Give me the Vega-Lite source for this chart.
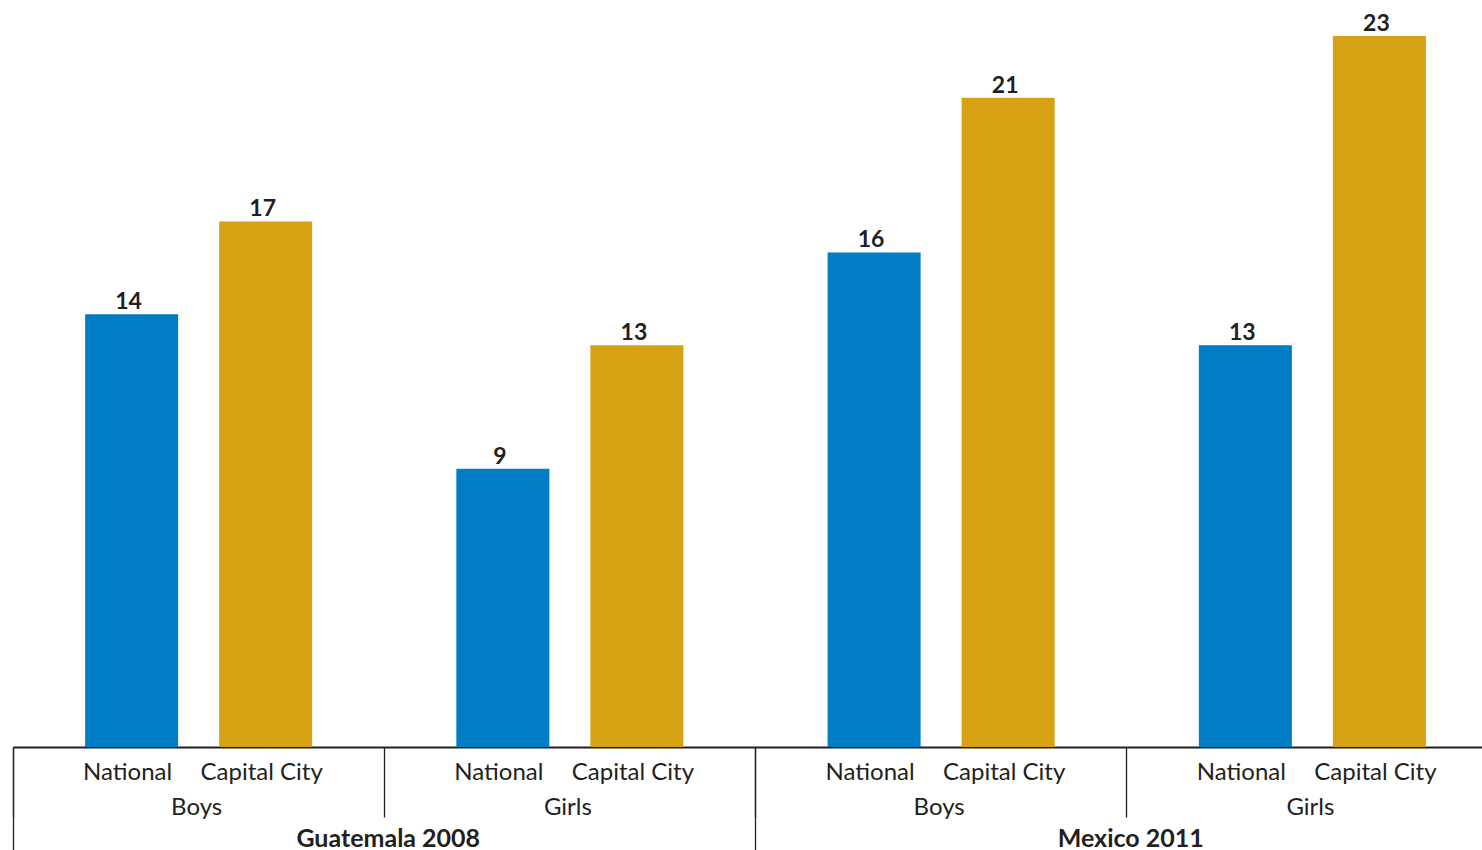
{
  "$schema": "https://vega.github.io/schema/vega-lite/v6.json",
  "width": 1469,
  "height": 711,
  "autosize": {"type": "none"},
  "padding": {"left": 13, "top": 36, "right": 0, "bottom": 103},
  "background": "white",
  "config": {"view": {"stroke": null}, "font": "Lato"},
  "data": {
    "values": [
      {"country": "Guatemala 2008", "group": "Guatemala 2008|Boys", "type": "National", "value": 14},
      {"country": "Guatemala 2008", "group": "Guatemala 2008|Boys", "type": "Capital City", "value": 17},
      {"country": "Guatemala 2008", "group": "Guatemala 2008|Girls", "type": "National", "value": 9},
      {"country": "Guatemala 2008", "group": "Guatemala 2008|Girls", "type": "Capital City", "value": 13},
      {"country": "Mexico 2011", "group": "Mexico 2011|Boys", "type": "National", "value": 16},
      {"country": "Mexico 2011", "group": "Mexico 2011|Boys", "type": "Capital City", "value": 21},
      {"country": "Mexico 2011", "group": "Mexico 2011|Girls", "type": "National", "value": 13},
      {"country": "Mexico 2011", "group": "Mexico 2011|Girls", "type": "Capital City", "value": 23}
    ]
  },
  "layer": [
    {
      "encoding": {
        "x": {
          "field": "group",
          "type": "nominal",
          "scale": {"type": "band", "paddingInner": 0, "paddingOuter": 0, "range": [0, 1485]},
          "axis": {
            "orient": "bottom",
            "title": null,
            "labelExpr": "split(datum.label, '|')[1]",
            "labelFontSize": 24,
            "labelColor": "#231F20",
            "labelBaseline": "alphabetic",
            "labelPadding": -3,
            "labelOffset": -2,
            "labelAngle": 0,
            "labelLimit": 0,
            "domain": true,
            "domainColor": "#231F20",
            "domainWidth": 2,
            "ticks": true,
            "tickSize": 70,
            "tickWidth": 1.3,
            "tickColor": "#231F20",
            "bandPosition": 0,
            "tickExtra": false,
            "grid": false
          }
        },
        "xOffset": {
          "field": "type",
          "type": "nominal",
          "sort": ["National", "Capital City"],
          "scale": {"paddingInner": 0.306, "paddingOuter": 0.538}
        }
      },
      "layer": [
        {
          "mark": {"type": "bar"},
          "encoding": {
            "y": {"field": "value", "type": "quantitative", "scale": {"domain": [0, 23], "nice": false, "zero": true}, "axis": null},
            "color": {
              "field": "type",
              "type": "nominal",
              "scale": {"domain": ["National", "Capital City"], "range": ["#007DC4", "#D6A112"]},
              "legend": null
            }
          }
        },
        {
          "mark": {"type": "text", "baseline": "alphabetic", "dy": -5, "dx": -3, "fontSize": 23, "fontWeight": "bold", "color": "#231F20"},
          "encoding": {
            "y": {"field": "value", "type": "quantitative"},
            "text": {"field": "value", "type": "quantitative"}
          }
        },
        {
          "mark": {"type": "text", "baseline": "alphabetic", "dy": 33, "dx": -4, "fontSize": 24, "color": "#231F20"},
          "encoding": {
            "y": {"datum": 0},
            "text": {"field": "type", "type": "nominal"}
          }
        }
      ]
    },
    {
      "mark": {"type": "point", "opacity": 0},
      "encoding": {
        "x": {
          "field": "country",
          "type": "nominal",
          "scale": {"type": "band", "paddingInner": 0, "paddingOuter": 0, "range": [0, 1485]},
          "axis": {
            "orient": "bottom",
            "title": null,
            "labelFontSize": 25,
            "labelFontWeight": "bold",
            "labelColor": "#231F20",
            "labelBaseline": "alphabetic",
            "labelPadding": -5,
            "labelOffset": 4,
            "labelAngle": 0,
            "labelLimit": 0,
            "domain": false,
            "ticks": true,
            "tickSize": 104,
            "tickWidth": 1.3,
            "tickColor": "#231F20",
            "bandPosition": 0,
            "tickExtra": false,
            "grid": false
          }
        },
        "y": {"datum": 0}
      }
    }
  ],
  "resolve": {"scale": {"x": "independent"}}
}
